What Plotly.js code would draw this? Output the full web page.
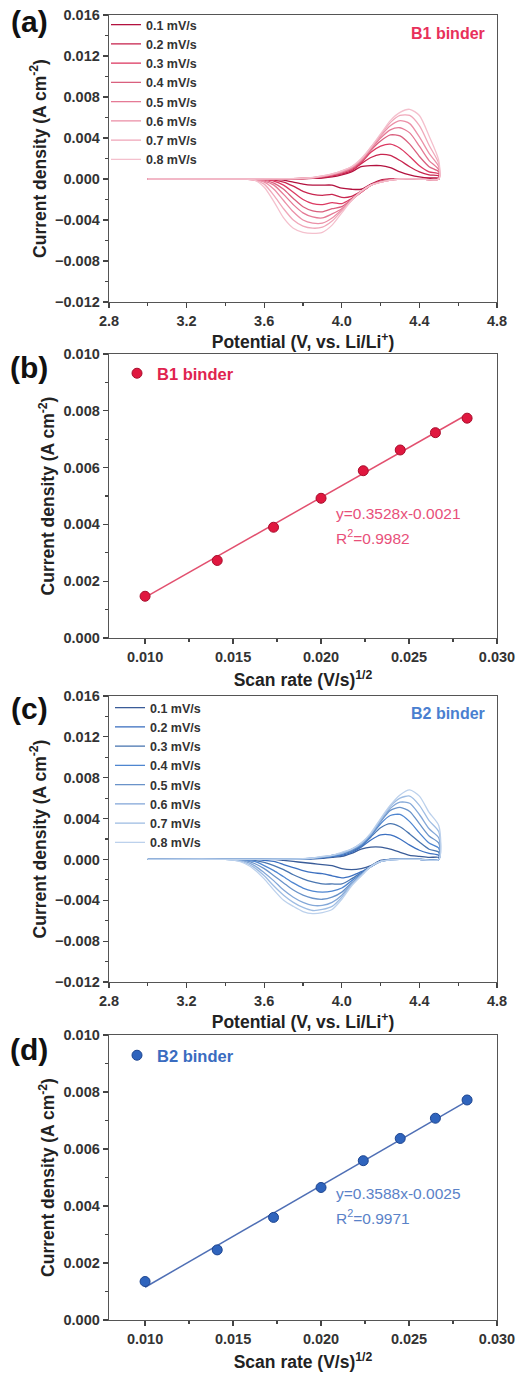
<!DOCTYPE html>
<html>
<head>
<meta charset="utf-8">
<script src="https://cdn.plot.ly/plotly-3.0.1.min.js"></script>
<style>
  html, body { margin: 0; padding: 0; background: #ffffff; }
  #chart { width: 518px; height: 1373px; }
</style>
</head>
<body>
<div id="chart"></div>
<script>
// ---------------- DATA ----------------
const scanRateLabels = ['0.1 mV/s', '0.2 mV/s', '0.3 mV/s', '0.4 mV/s', '0.5 mV/s', '0.6 mV/s', '0.7 mV/s', '0.8 mV/s'];

// Potential grid of the anodic sweep (3.0 -> 4.5 V) and of the cathodic sweep (4.5 -> 3.0 V)
const potentialAnodic = [3.0, 3.5, 3.7, 3.8, 3.85, 3.9, 3.95, 4.0, 4.05, 4.1, 4.15, 4.2, 4.25, 4.3, 4.35, 4.4, 4.45, 4.5];
const potentialCathodic = [4.5, 4.4, 4.3, 4.25, 4.2, 4.15, 4.1, 4.05, 4.0, 3.95, 3.9, 3.85, 3.8, 3.75, 3.7, 3.65, 3.6, 3.55, 3.5, 3.45, 3.4, 3.0];

// (a) B1 binder, current density (A cm-2), one row per scan rate
const b1Anodic = [
  [0, 0, 0, 0.00003, 0.00006, 0.0001, 0.0002, 0.0004, 0.0007, 0.0012, 0.0013, 0.0013, 0.0011, 0.0007, 0.0004, 0.0002, 0.0001, 0.0001],
  [0, 0, 0, 0.00003, 0.00008, 0.00015, 0.0003, 0.0005, 0.0008, 0.0015, 0.0021, 0.0024, 0.0023, 0.0018, 0.0012, 0.0007, 0.0004, 0.0003],
  [0, 0, 0.00001, 0.00005, 0.0001, 0.0002, 0.00035, 0.0006, 0.0009, 0.0016, 0.0026, 0.0032, 0.0034, 0.0030, 0.0022, 0.0013, 0.0007, 0.0005],
  [0, 0, 0.00001, 0.00005, 0.0001, 0.0002, 0.0004, 0.0006, 0.0010, 0.0017, 0.0028, 0.0037, 0.0043, 0.0042, 0.0034, 0.0022, 0.0012, 0.0007],
  [0, 0, 0.00002, 0.00006, 0.00012, 0.00025, 0.0004, 0.0007, 0.0011, 0.0018, 0.0029, 0.0040, 0.0048, 0.0050, 0.0045, 0.0032, 0.0018, 0.0009],
  [0, 0, 0.00002, 0.00006, 0.00012, 0.00025, 0.00045, 0.0007, 0.0011, 0.0019, 0.0030, 0.0042, 0.0052, 0.0057, 0.0054, 0.0041, 0.0025, 0.0012],
  [0, 0, 0.00002, 0.00007, 0.00014, 0.0003, 0.0005, 0.0008, 0.0012, 0.0019, 0.0031, 0.0043, 0.0055, 0.0062, 0.0062, 0.0052, 0.0033, 0.0015],
  [0, 0, 0.00003, 0.00008, 0.00015, 0.0003, 0.0005, 0.0008, 0.0012, 0.0020, 0.0031, 0.0044, 0.0057, 0.0065, 0.0068, 0.0062, 0.0042, 0.0018]
];
const b1Cathodic = [
  [0, 0, 0, 0, -0.0001, -0.0005, -0.0010, -0.0010, -0.0009, -0.0006, -0.0006, -0.0006, -0.0005, -0.0003, -0.0001, 0, 0, 0, 0, 0, 0, 0],
  [0, 0, 0, -0.00005, -0.0002, -0.0006, -0.0012, -0.0017, -0.0018, -0.0015, -0.0016, -0.0015, -0.0012, -0.0007, -0.0003, -0.0001, 0, 0, 0, 0, 0, 0],
  [0, 0, 0, -0.00005, -0.0002, -0.0006, -0.0013, -0.0019, -0.0024, -0.0023, -0.0025, -0.0024, -0.0020, -0.0013, -0.0006, -0.0002, -0.00005, 0, 0, 0, 0, 0],
  [0, 0, 0, -0.00005, -0.0002, -0.0006, -0.0013, -0.0020, -0.0027, -0.0029, -0.0032, -0.0031, -0.0027, -0.0019, -0.0010, -0.0004, -0.0001, 0, 0, 0, 0, 0],
  [0, 0, 0, -0.0001, -0.0003, -0.0006, -0.0013, -0.0020, -0.0029, -0.0034, -0.0038, -0.0037, -0.0033, -0.0025, -0.0015, -0.0006, -0.0002, -0.00005, 0, 0, 0, 0],
  [0, 0, 0, -0.0001, -0.0003, -0.0006, -0.0012, -0.0021, -0.0030, -0.0038, -0.0043, -0.0043, -0.0040, -0.0032, -0.0021, -0.0010, -0.0003, -0.0001, 0, 0, 0, 0],
  [0, 0, 0, -0.0001, -0.0003, -0.0006, -0.0012, -0.0021, -0.0031, -0.0041, -0.0047, -0.0048, -0.0046, -0.0040, -0.0029, -0.0016, -0.0005, -0.0001, 0, 0, 0, 0],
  [0, 0, 0, -0.0001, -0.0003, -0.0006, -0.0012, -0.0021, -0.0033, -0.0045, -0.0052, -0.0053, -0.0052, -0.0048, -0.0038, -0.0022, -0.0008, -0.0001, 0, 0, 0, 0]
];

// (c) B2 binder
const b2Anodic = [
  [0, 0, 0, 0.00002, 0.00005, 0.0001, 0.0002, 0.0003, 0.0006, 0.0010, 0.0012, 0.0012, 0.0010, 0.0007, 0.0004, 0.0003, 0.0002, 0.0002],
  [0, 0, 0, 0.00003, 0.00007, 0.00015, 0.0003, 0.0004, 0.0007, 0.0012, 0.0019, 0.0024, 0.0024, 0.0020, 0.0014, 0.0009, 0.0006, 0.0004],
  [0, 0, 0.00001, 0.00004, 0.0001, 0.0002, 0.0003, 0.0005, 0.0008, 0.0013, 0.0022, 0.0031, 0.0035, 0.0032, 0.0025, 0.0017, 0.0010, 0.0007],
  [0, 0, 0.00001, 0.00005, 0.0001, 0.0002, 0.0003, 0.0005, 0.0009, 0.0014, 0.0023, 0.0035, 0.0043, 0.0044, 0.0037, 0.0026, 0.0016, 0.0011],
  [0, 0, 0.00002, 0.00005, 0.0001, 0.0002, 0.0004, 0.0006, 0.0009, 0.0015, 0.0024, 0.0037, 0.0048, 0.0051, 0.0047, 0.0035, 0.0023, 0.0016],
  [0, 0, 0.00002, 0.00006, 0.00012, 0.00025, 0.0004, 0.0006, 0.0010, 0.0015, 0.0025, 0.0038, 0.0050, 0.0056, 0.0055, 0.0044, 0.0030, 0.0021],
  [0, 0, 0.00002, 0.00006, 0.00012, 0.00025, 0.0004, 0.0006, 0.0010, 0.0016, 0.0025, 0.0039, 0.0052, 0.0060, 0.0062, 0.0053, 0.0038, 0.0027],
  [0, 0, 0.00002, 0.00007, 0.00014, 0.0003, 0.0004, 0.0007, 0.0010, 0.0016, 0.0026, 0.0040, 0.0053, 0.0063, 0.0068, 0.0062, 0.0046, 0.0033]
];
const b2Cathodic = [
  [0, 0, 0, 0, -0.0001, -0.0006, -0.0009, -0.0010, -0.0009, -0.0006, -0.0005, -0.0004, -0.0003, -0.0002, -0.0001, 0, 0, 0, 0, 0, 0, 0],
  [0, 0, 0, 0, -0.0002, -0.0007, -0.0012, -0.0016, -0.0018, -0.0016, -0.0014, -0.0013, -0.0011, -0.0008, -0.0005, -0.0002, -0.0001, 0, 0, 0, 0, 0],
  [0, 0, 0, 0, -0.0002, -0.0007, -0.0013, -0.0019, -0.0024, -0.0024, -0.0024, -0.0022, -0.0019, -0.0015, -0.0010, -0.0006, -0.0003, -0.0001, 0, 0, 0, 0],
  [0, 0, 0, -0.00003, -0.0002, -0.0007, -0.0014, -0.0021, -0.0028, -0.0031, -0.0032, -0.0031, -0.0028, -0.0023, -0.0017, -0.0011, -0.0006, -0.0002, -0.0001, 0, 0, 0],
  [0, 0, 0, -0.00003, -0.0002, -0.0007, -0.0015, -0.0023, -0.0032, -0.0037, -0.0039, -0.0038, -0.0035, -0.0030, -0.0023, -0.0016, -0.0009, -0.0004, -0.0001, 0, 0, 0],
  [0, 0, 0, -0.00004, -0.0002, -0.0007, -0.0015, -0.0024, -0.0035, -0.0042, -0.0045, -0.0045, -0.0042, -0.0037, -0.0030, -0.0021, -0.0013, -0.0006, -0.0002, -0.00005, 0, 0],
  [0, 0, 0, -0.00005, -0.0002, -0.0007, -0.0016, -0.0025, -0.0037, -0.0046, -0.0049, -0.0050, -0.0047, -0.0042, -0.0035, -0.0026, -0.0016, -0.0008, -0.0003, -0.0001, 0, 0],
  [0, 0, 0, -0.00005, -0.0002, -0.0007, -0.0016, -0.0026, -0.0039, -0.0049, -0.0052, -0.0053, -0.0051, -0.0046, -0.0040, -0.0030, -0.0019, -0.0010, -0.0004, -0.0001, 0, 0]
];

// (b), (d) peak current vs square root of scan rate
const sqrtScanRate = [0.0100, 0.0141, 0.0173, 0.0200, 0.0224, 0.0245, 0.0265, 0.0283];
const b1PeakCurrent = [0.00147, 0.00273, 0.00390, 0.00492, 0.00589, 0.00662, 0.00723, 0.00774];
const b2PeakCurrent = [0.00135, 0.00246, 0.00360, 0.00465, 0.00559, 0.00637, 0.00708, 0.00772];
const fitX = [0.0100, 0.0283];
const b1FitY = [0.00143, 0.00787];
const b2FitY = [0.00115, 0.00768];
const b1FitText = ['y=0.3528x-0.0021', 'R<sup>2</sup>=0.9982'];
const b2FitText = ['y=0.3588x-0.0025', 'R<sup>2</sup>=0.9971'];

// ---------------- STYLE ----------------
const FONT = 'Liberation Sans, Arial, Helvetica, sans-serif';
const redShades = ['#b3123f', '#c8264f', '#dc3a62', '#d9607e', '#e57a95', '#eb90a7', '#f0a8ba', '#f4c0cd'];
const blueShades = ['#3a5c98', '#3c70c0', '#4a76b0', '#4f86d0', '#6a93c9', '#84a8d8', '#9fbde3', '#bcd1ec'];
const W = 518, H = 1373;
const px = v => v / W;
const py = v => 1 - v / H;

const traces = [];
function addCV(anodic, cathodic, colors, xa, ya, legendId) {
  for (let k = 0; k < scanRateLabels.length; k++) {
    traces.push({
      type: 'scatter', mode: 'lines',
      x: potentialAnodic.concat(potentialCathodic),
      y: anodic[k].concat(cathodic[k]),
      name: scanRateLabels[k],
      line: { color: colors[k], width: 1.3, shape: 'spline', smoothing: 0.7 },
      xaxis: xa, yaxis: ya, legend: legendId,
      hoverinfo: 'x+y+name'
    });
  }
}
addCV(b1Anodic, b1Cathodic, redShades, 'x', 'y', 'legend');
addCV(b2Anodic, b2Cathodic, blueShades, 'x3', 'y3', 'legend2');

traces.push({ type: 'scatter', mode: 'lines', x: fitX, y: b1FitY, xaxis: 'x2', yaxis: 'y2',
  line: { color: '#e2506f', width: 1.5 }, showlegend: false, hoverinfo: 'skip' });
traces.push({ type: 'scatter', mode: 'markers', x: sqrtScanRate, y: b1PeakCurrent, xaxis: 'x2', yaxis: 'y2',
  name: 'B1 binder', legend: 'legend3',
  marker: { color: '#e0173f', size: 10, line: { color: '#a80d2c', width: 1 } } });
traces.push({ type: 'scatter', mode: 'lines', x: fitX, y: b2FitY, xaxis: 'x4', yaxis: 'y4',
  line: { color: '#4f6fb5', width: 1.5 }, showlegend: false, hoverinfo: 'skip' });
traces.push({ type: 'scatter', mode: 'markers', x: sqrtScanRate, y: b2PeakCurrent, xaxis: 'x4', yaxis: 'y4',
  name: 'B2 binder', legend: 'legend4',
  marker: { color: '#2f64bd', size: 10, line: { color: '#1d4590', width: 1 } } });

function axisBase(extra) {
  return Object.assign({
    showline: true, mirror: true, linecolor: '#555', linewidth: 1.3,
    ticks: 'outside', ticklen: 5, tickwidth: 1.2, tickcolor: '#444',
    showgrid: false, zeroline: false, fixedrange: true,
    tickfont: { family: FONT, size: 14.5, color: '#333', weight: 'bold' },
    title: { font: { family: FONT, size: 17.5, color: '#222', weight: 'bold' } }
  }, extra);
}
const yTitle = 'Current density (A cm<sup>-2</sup>)';
const potTitle = 'Potential (V, vs. Li/Li<sup>+</sup>)';
const scanTitle = 'Scan rate (V/s)<sup>1/2</sup>';
const xDomain = [px(109), px(497)];

function cvX(anchor) {
  const a = axisBase({ domain: xDomain, anchor: anchor, range: [2.8, 4.8], tickvals: [2.8, 3.2, 3.6, 4.0, 4.4, 4.8],
    tickformat: '.1f', minor: { ticks: 'outside', ticklen: 3, tickcolor: '#444', dtick: 0.2, tick0: 2.8 } });
  a.title.text = potTitle; a.title.standoff = 8;
  return a;
}
function cvY(anchor, dom) {
  const a = axisBase({ domain: dom, anchor: anchor, range: [-0.012, 0.016], dtick: 0.004, tick0: 0,
    tickformat: '.3f', minor: { ticks: 'outside', ticklen: 3, tickcolor: '#444', dtick: 0.002 } });
  a.title.text = yTitle; a.title.standoff = 4;
  return a;
}
function fitXAx(anchor) {
  const a = axisBase({ domain: xDomain, anchor: anchor, range: [0.00795, 0.030], tickvals: [0.010, 0.015, 0.020, 0.025, 0.030],
    tickformat: '.3f', minor: { ticks: 'outside', ticklen: 3, tickcolor: '#444', dtick: 0.0025, tick0: 0.0075 } });
  a.title.text = scanTitle; a.title.standoff = 10;
  return a;
}
function fitYAx(anchor, dom) {
  const a = axisBase({ domain: dom, anchor: anchor, range: [0, 0.010], dtick: 0.002, tick0: 0,
    tickformat: '.3f', minor: { ticks: 'outside', ticklen: 3, tickcolor: '#444', dtick: 0.001 } });
  a.title.text = yTitle; a.title.standoff = 4;
  return a;
}

const legBase = (x, y, color, size) => ({
  x: x, y: y, xanchor: 'left', yanchor: 'top', bgcolor: 'rgba(0,0,0,0)', borderwidth: 0,
  font: { family: FONT, size: size, color: color, weight: 'bold' }, tracegroupgap: 0
});

function ann(x, y, text, font, xanchor) {
  return { xref: 'paper', yref: 'paper', x: px(x), y: py(y), text: text, showarrow: false,
    xanchor: xanchor || 'center', yanchor: 'middle', font: font };
}
const panelFont = { family: FONT, size: 30, color: '#111', weight: 'bold' };

const layout = {
  width: W, height: H,
  margin: { l: 0, r: 0, t: 0, b: 0 },
  paper_bgcolor: '#ffffff', plot_bgcolor: '#ffffff',
  showlegend: true,
  xaxis: cvX('y'), yaxis: cvY('x', [py(302), py(15)]),
  xaxis2: fitXAx('y2'), yaxis2: fitYAx('x2', [py(638), py(354)]),
  xaxis3: cvX('y3'), yaxis3: cvY('x3', [py(982), py(696)]),
  xaxis4: fitXAx('y4'), yaxis4: fitYAx('x4', [py(1320), py(1035)]),
  legend: legBase(px(106), py(10), '#333', 12.5),
  legend2: legBase(px(110), py(693), '#333', 12.5),
  legend3: legBase(px(117), py(356), '#e0234f', 16.5),
  legend4: legBase(px(117), py(1038), '#3a6cc0', 16.5),
  annotations: [
    ann(29, 22, '(a)', panelFont),
    ann(29, 367, '(b)', panelFont),
    ann(29, 708, '(c)', panelFont),
    ann(29, 1049, '(d)', panelFont),
    ann(487, 33, 'B1 binder', { family: FONT, size: 16, color: '#e8305a', weight: 'bold' }, 'right'),
    ann(487, 713, 'B2 binder', { family: FONT, size: 16, color: '#4a7fd0', weight: 'bold' }, 'right'),
    ann(334, 513, b1FitText[0], { family: FONT, size: 15.5, color: '#e8507a' }, 'left'),
    ann(334, 537, b1FitText[1], { family: FONT, size: 15.5, color: '#e8507a' }, 'left'),
    ann(334, 1193, b2FitText[0], { family: FONT, size: 15.5, color: '#5a82c8' }, 'left'),
    ann(334, 1217, b2FitText[1], { family: FONT, size: 15.5, color: '#5a82c8' }, 'left')
  ]
};

Plotly.newPlot('chart', traces, layout, { displayModeBar: false, staticPlot: true });
</script>
</body>
</html>
